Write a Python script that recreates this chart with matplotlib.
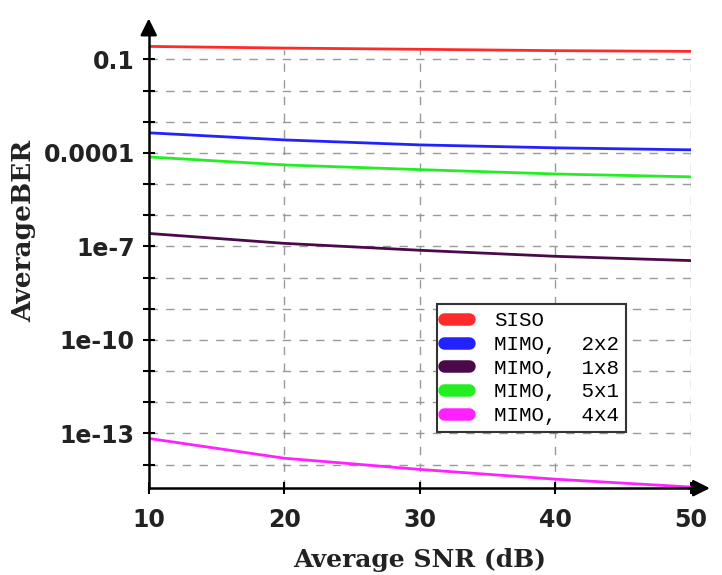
import numpy as np
import matplotlib.pyplot as plt
from matplotlib.lines import Line2D

# average SNR in dB
snr = [10, 20, 30, 40, 50]

# average BER per antenna setup
ber_siso = [0.26, 0.23, 0.21, 0.19, 0.18]
ber_2x2 = [4.4e-4, 2.6e-4, 1.8e-4, 1.45e-4, 1.25e-4]
ber_1x8 = [2.6e-7, 1.25e-7, 7.5e-8, 4.8e-8, 3.5e-8]
ber_5x1 = [7.4e-5, 4.1e-5, 2.9e-5, 2.1e-5, 1.7e-5]
ber_4x4 = [6.9e-14, 1.6e-14, 7e-15, 3.4e-15, 1.9e-15]

labels = ['SISO', 'MIMO,  2x2', 'MIMO,  1x8', 'MIMO,  5x1', 'MIMO,  4x4']
colors = ['#ff2a2a', '#2222ff', '#4a0a4a', '#22ee22', '#ff22ff']
ytick_vals = [1e-1, 1e-4, 1e-7, 1e-10, 1e-13]
ytick_text = ['0.1', '0.0001', '1e-7', '1e-10', '1e-13']

fig = plt.figure(figsize=(7.22, 5.75), dpi=100)
ax = fig.add_axes([0.206, 0.151, 0.751, 0.80])

series = [ber_siso, ber_2x2, ber_1x8, ber_5x1, ber_4x4]
for vals, c in zip(series, colors):
    ax.plot(snr, vals, color=c, lw=2)

ax.set_yscale('log')
ax.set_xlim(10, 50)
ax.set_ylim(1.75e-15, 1.0)

# dashed grid at every decade and every 10 dB
for e in range(-14, 0):
    ax.axhline(10.0 ** e, color='#999999', lw=1, ls=(0, (6, 6)), zorder=0)
ax.vlines([20, 30, 40, 50], 1.75e-15, 0.2, color='#999999', lw=1,
          linestyles=[(0, (6, 6))], zorder=0)

ax.set_yticks([10.0 ** e for e in range(-14, 0)], minor=True)
ax.set_yticks(ytick_vals)
ax.set_yticklabels(ytick_text)
ax.yaxis.set_minor_formatter(plt.NullFormatter())
ax.set_xticks([10, 20, 30, 40, 50])
ax.tick_params(axis='both', which='both', direction='inout', length=8, width=1.5,
               color='black', labelsize=17, labelcolor='#222222')
for t in ax.get_xticklabels() + ax.get_yticklabels():
    t.set_fontweight('bold')
ax.tick_params(axis='x', pad=10)
ax.tick_params(axis='y', pad=6)

for s in ['top', 'right']:
    ax.spines[s].set_visible(False)
for s in ['left', 'bottom']:
    ax.spines[s].set_linewidth(1.8)

# arrow heads on the two axes
ax.annotate('', xy=(0, 1.027), xycoords='axes fraction', xytext=(0, 0.98),
            arrowprops=dict(arrowstyle='-|>', color='black', lw=1.8, mutation_scale=25),
            annotation_clip=False)
ax.annotate('', xy=(1.04, 0), xycoords='axes fraction', xytext=(0.99, 0),
            arrowprops=dict(arrowstyle='-|>', color='black', lw=1.8, mutation_scale=25),
            annotation_clip=False)

ax.set_xlabel('Average SNR (dB)', fontsize=18, fontweight='bold', family='DejaVu Serif',
              color='#222222', labelpad=12)
ax.set_ylabel('AverageBER', fontsize=19, fontweight='bold', family='DejaVu Serif',
              color='#222222')
ax.yaxis.set_label_coords(-0.207, 0.56)

handles = [Line2D([0], [0], color=c, lw=9, solid_capstyle='round') for c in colors]
leg = ax.legend(handles, labels, loc='upper left', bbox_to_anchor=(0.531, 0.40),
                borderaxespad=0, prop={'family': 'Liberation Mono', 'size': 15},
                handlelength=1.2, handletextpad=1.2, labelspacing=0.22, borderpad=0.35,
                fancybox=False, framealpha=1, edgecolor='#333333')
leg.get_frame().set_linewidth(1.5)

fig.savefig('out.png', dpi=100)
